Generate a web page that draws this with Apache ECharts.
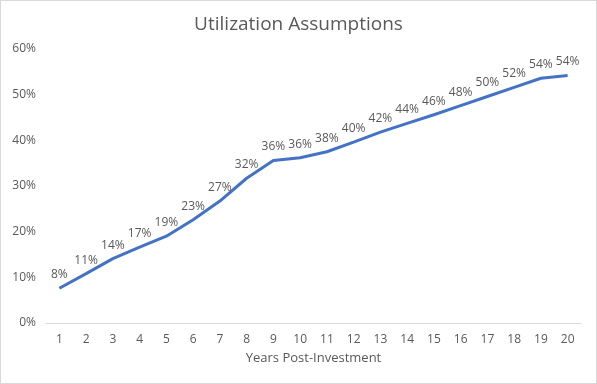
<!DOCTYPE html>
<html>
<head>
<meta charset="utf-8">
<script src="https://cdn.jsdelivr.net/npm/echarts@6/dist/echarts.min.js"></script>
<style>
html,body{margin:0;padding:0;background:#fff;}
#wrap{width:597px;height:384px;box-sizing:border-box;border:1px solid #d9d9d9;}
#chart{width:595px;height:382px;}
</style>
</head>
<body>
<div id="wrap"><div id="chart"></div></div>
<script>
const years = ['1','2','3','4','5','6','7','8','9','10','11','12','13','14','15','16','17','18','19','20'];
const utilization = [7.6, 10.8, 14.1, 16.6, 19.0, 22.6, 26.7, 31.7, 35.6, 36.2, 37.5, 39.6, 41.8, 43.7, 45.6, 47.6, 49.6, 51.6, 53.6, 54.2];
const yTicks = [0, 10, 20, 30, 40, 50, 60];

const FONT = 'Open Sans';
const chart = echarts.init(document.getElementById('chart'));
chart.setOption({
  animation: false,
  title: {
    text: 'Utilization Assumptions',
    left: 'center',
    top: 9,
    textStyle: {fontFamily: FONT, fontSize: 19, fontWeight: 'normal', color: '#595959'}
  },
  grid: {left: 45, right: 15, top: 48, bottom: 60},
  xAxis: {
    type: 'category',
    data: years,
    boundaryGap: true,
    name: 'Years Post-Investment',
    nameLocation: 'middle',
    nameGap: 29,
    nameTextStyle: {fontFamily: FONT, fontSize: 13, color: '#595959'},
    axisLine: {lineStyle: {color: '#d9d9d9', width: 1}},
    axisTick: {show: false},
    axisLabel: {fontFamily: FONT, fontSize: 12, color: '#595959', margin: 11}
  },
  yAxis: {
    type: 'value',
    min: yTicks[0],
    max: yTicks[yTicks.length - 1],
    interval: 10,
    axisLine: {show: false},
    axisTick: {show: false},
    splitLine: {show: false},
    axisLabel: {fontFamily: FONT, fontSize: 12, color: '#595959', margin: 10, formatter: v => v + '%'}
  },
  series: [{
    type: 'line',
    data: utilization,
    symbol: 'circle',
    symbolSize: 1,
    showSymbol: true,
    itemStyle: {color: 'rgba(68,114,196,0)'},
    lineStyle: {color: '#4472C4', width: 3},
    label: {
      show: true,
      position: 'top',
      distance: 7,
      fontFamily: FONT,
      fontSize: 12,
      color: '#595959',
      formatter: p => Math.round(p.value) + '%'
    }
  }]
});
</script>
</body>
</html>
